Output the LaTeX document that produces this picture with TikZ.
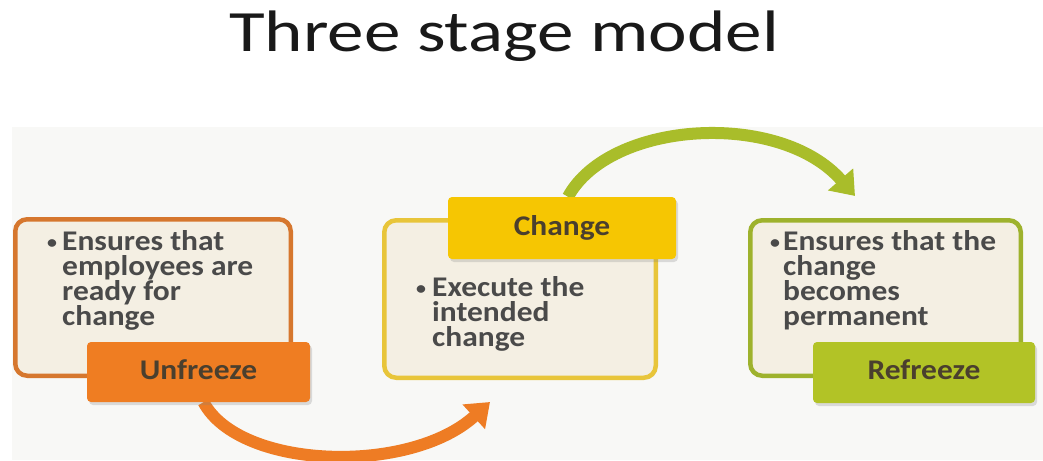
\documentclass[tikz,border=0pt]{standalone}
\usepackage{fontspec}
\usetikzlibrary{arrows.meta,shadows}
\setmainfont{Carlito}
\newfontfamily\titlefont[FakeStretch=1.25]{Carlito}
\newfontfamily\bodyfont[FakeStretch=1.105]{Carlito}
\definecolor{orB}{HTML}{D6772E}
\definecolor{orF}{HTML}{EF7D22}
\definecolor{orA}{HTML}{EE7C24}
\definecolor{yeB}{HTML}{E8C53A}
\definecolor{yeF}{HTML}{F6C602}
\definecolor{grB}{HTML}{9EB22D}
\definecolor{grF}{HTML}{B2C326}
\definecolor{grA}{HTML}{A9BD2A}
\definecolor{cream}{HTML}{F4EFE3}
\definecolor{txt}{HTML}{4A4A4A}
\definecolor{lbltxt}{HTML}{4A3F2E}
\definecolor{panel}{HTML}{F8F8F6}
\pgfdeclarelayer{bg}
\pgfdeclarelayer{back}
\pgfsetlayers{bg,back,main}
\newcommand\bpt{{\fontsize{18pt}{18pt}\selectfont\raisebox{1.5pt}{•}}}
\newcommand\tlines[1]{\vtop{\baselineskip=25pt\lineskiplimit=-100pt\lineskip=0pt #1}}
\tikzset{
  box/.style={draw, line width=4.5pt, fill=cream, rounded corners=12pt, inner sep=0pt,
    drop shadow={shadow xshift=1.5pt, shadow yshift=-2pt, opacity=.12}},
  lbl/.style={inner sep=0pt, rounded corners=4pt, minimum width=223pt, minimum height=60pt,
    text height=20pt, text depth=6pt, text=lbltxt,
    font=\bodyfont\bfseries\fontsize{28.5}{30}\selectfont,
    drop shadow={shadow xshift=2pt, shadow yshift=-3pt, opacity=.25}},
  btext/.style={anchor=base west, inner sep=0pt, text=txt,
    font=\bodyfont\bfseries\fontsize{28.5}{25}\selectfont},
  bigarrow/.style={line width=12pt, -{Triangle[width=32pt,length=22pt]}}
}
\begin{document}
\begin{tikzpicture}[x=1pt,y=-1pt]
\useasboundingbox (0,0) rectangle (1043,460);
\begin{pgfonlayer}{bg}
\fill[white] (0,0) rectangle (1043,460);
\fill[panel] (12,127) rectangle (1043,460);
\end{pgfonlayer}
% title
\node[anchor=base, inner sep=0pt, text=black!90, font=\titlefont\fontsize{58.5}{60}\selectfont]
  (title) at (504,52) {Three stage model};
% content boxes
\node[box, draw=orB, minimum width=275.5pt, minimum height=156.5pt] (box1) at (153,297.5) {};
\node[box, draw=yeB, minimum width=271.5pt, minimum height=157.5pt] (box2) at (520,299) {};
\node[box, draw=grB, minimum width=270.5pt, minimum height=155.5pt] (box3) at (885.5,298) {};
% texts
\node[btext] (t1) at (47,250) {\tlines{%
  \hbox{\makebox[15pt][l]{\bpt}Ensures that}
  \hbox{\hspace*{15pt}employees are}
  \hbox{\hspace*{15pt}ready for}
  \hbox{\hspace*{15pt}change}}};
\node[btext] (t2) at (416,296) {\tlines{%
  \hbox{\makebox[16pt][l]{\bpt}Execute the}
  \hbox{\hspace*{16pt}intended}
  \hbox{\hspace*{16pt}change}}};
\node[btext] (t3) at (770,250) {\tlines{%
  \hbox{\makebox[13pt][l]{\bpt}Ensures that the}
  \hbox{\hspace*{13pt}change}
  \hbox{\hspace*{13pt}becomes}
  \hbox{\hspace*{13pt}permanent}}};
% labels
\node[lbl, fill=orF] (lab1) at (198.5,372) {Unfreeze};
\node[lbl, fill=yeF, minimum width=228pt, minimum height=62pt] (lab2) at (562,228) {Change};
\node[lbl, fill=grF, minimum width=222pt, minimum height=61pt] (lab3) at (924,372.5) {Refreeze};
% arrows
\coordinate (oend) at (490,402);
\coordinate (gend) at (855,196);
\begin{pgfonlayer}{back}
\draw[bigarrow, draw=orA] ([xshift=5pt]lab1.south) .. controls (240,470) and (410,475) .. (oend);
\draw[bigarrow, draw=grA] ([xshift=6pt]lab2.north) .. controls (610,120) and (780,110) .. (gend);
\end{pgfonlayer}
\end{tikzpicture}
\end{document}
